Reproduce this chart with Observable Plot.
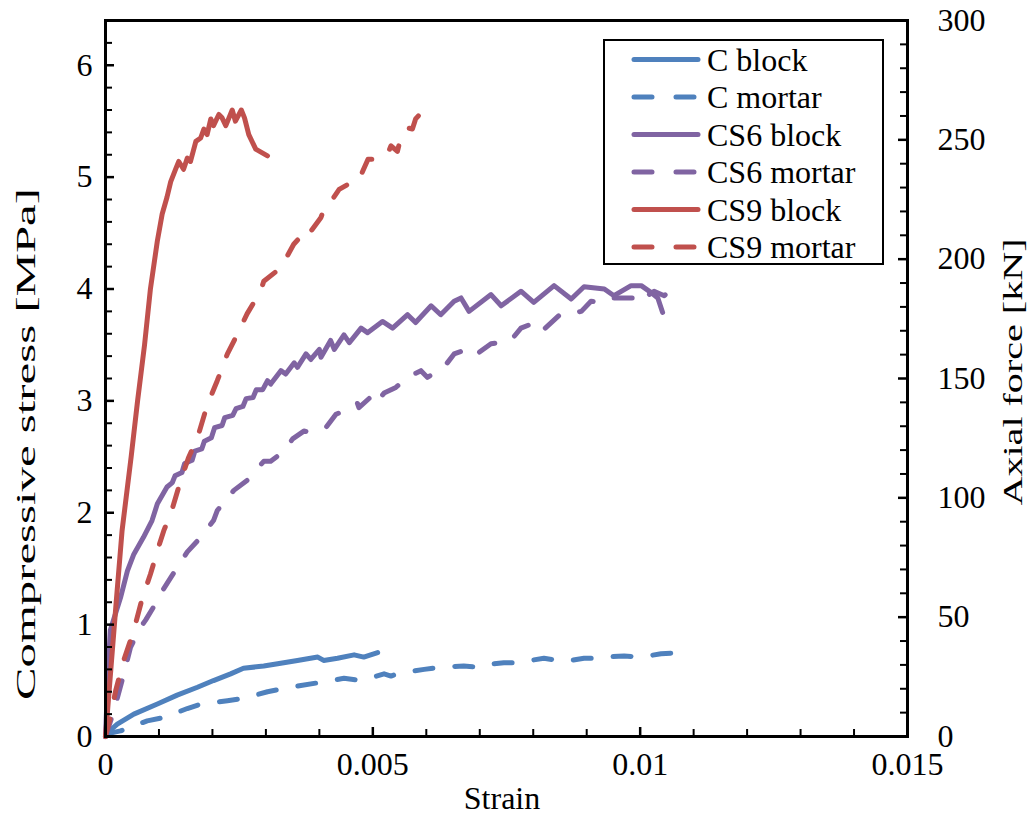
<!DOCTYPE html>
<html>
<head>
<meta charset="utf-8">
<script src="https://cdn.jsdelivr.net/npm/d3@7"></script>
<script src="https://cdn.jsdelivr.net/npm/@observablehq/plot@0.6"></script>
<style>
  body { margin: 0; background: white; }
  #wrap { position: relative; width: 1029px; height: 816px; }
  #wrap svg { display: block; }
</style>
</head>
<body>
<div id="wrap"></div>
<script>
// ---------------- data ----------------
const seriesNames = ["C block", "C mortar", "CS6 block", "CS6 mortar", "CS9 block", "CS9 mortar"];
const seriesColors = ["#4F81BD", "#4F81BD", "#8064A2", "#8064A2", "#C0504D", "#C0504D"];
const seriesDashed = [false, true, false, true, false, true];

const cBlockStrain = [0, 0.00003, 0.00022, 0.00053, 0.00097, 0.00134, 0.00172, 0.00202, 0.00234, 0.00258, 0.00296, 0.00322, 0.00359, 0.00397, 0.00408, 0.00434, 0.00465, 0.00483, 0.00509];
const cBlockStress = [0, 0.03, 0.11, 0.2, 0.29, 0.37, 0.44, 0.5, 0.56, 0.61, 0.63, 0.65, 0.68, 0.71, 0.68, 0.7, 0.73, 0.71, 0.75];

const cMortarStrain = [0, 0.00009, 0.00028, 0.00078, 0.00109, 0.00153, 0.00178, 0.00228, 0.00258, 0.00303, 0.00346, 0.00397, 0.00446, 0.00478, 0.00521, 0.00534, 0.00552, 0.00596, 0.00627, 0.0067, 0.00696, 0.00705, 0.00745, 0.00771, 0.0082, 0.00858, 0.00895, 0.0092, 0.00933, 0.0097, 0.01002, 0.01039, 0.01077];
const cMortarStress = [0, 0.03, 0.05, 0.14, 0.17, 0.25, 0.29, 0.32, 0.34, 0.4, 0.44, 0.48, 0.52, 0.5, 0.56, 0.54, 0.57, 0.6, 0.62, 0.63, 0.62, 0.64, 0.66, 0.66, 0.7, 0.67, 0.7, 0.7, 0.71, 0.72, 0.71, 0.74, 0.75];

const cs6BlockStrain = [0, 0.00005, 0.00009, 0.00028, 0.00041, 0.00053, 0.00071, 0.00087, 0.00097, 0.00115, 0.00125, 0.0013, 0.00143, 0.00148, 0.00162, 0.00167, 0.0018, 0.00185, 0.00198, 0.00204, 0.00218, 0.00223, 0.00238, 0.00244, 0.00257, 0.00263, 0.00276, 0.00282, 0.00294, 0.00303, 0.00309, 0.00328, 0.00337, 0.00353, 0.00359, 0.00375, 0.00384, 0.004, 0.00403, 0.00421, 0.00428, 0.00446, 0.00456, 0.00478, 0.0049, 0.00518, 0.00537, 0.00565, 0.0058, 0.00609, 0.00627, 0.00652, 0.00665, 0.0068, 0.00721, 0.0074, 0.00777, 0.00801, 0.00839, 0.00871, 0.00895, 0.00933, 0.00951, 0.00983, 0.01002, 0.0102, 0.01033, 0.01042];
const cs6BlockStress = [0, 0.6, 0.95, 1.24, 1.48, 1.63, 1.78, 1.93, 2.08, 2.23, 2.27, 2.33, 2.36, 2.44, 2.47, 2.55, 2.57, 2.64, 2.67, 2.76, 2.78, 2.85, 2.87, 2.93, 2.95, 3.02, 3.03, 3.1, 3.1, 3.18, 3.15, 3.27, 3.24, 3.34, 3.3, 3.42, 3.37, 3.46, 3.39, 3.54, 3.46, 3.59, 3.52, 3.65, 3.61, 3.71, 3.65, 3.77, 3.7, 3.85, 3.77, 3.89, 3.92, 3.8, 3.95, 3.85, 3.98, 3.88, 4.03, 3.91, 4.02, 4.0, 3.94, 4.03, 4.03, 3.97, 3.92, 3.79];

const cs6MortarStrain = [0, 0.00015, 0.00031, 0.00047, 0.00066, 0.00075, 0.00094, 0.00106, 0.00122, 0.00134, 0.00153, 0.00178, 0.00202, 0.00209, 0.0024, 0.00265, 0.00296, 0.00309, 0.00334, 0.0035, 0.00371, 0.00384, 0.00412, 0.00431, 0.00456, 0.00471, 0.00474, 0.00502, 0.00509, 0.00521, 0.00543, 0.00565, 0.0059, 0.00602, 0.00633, 0.00652, 0.0067, 0.00689, 0.00721, 0.00758, 0.00777, 0.00808, 0.0082, 0.00852, 0.00864, 0.0089, 0.00908, 0.00933, 0.00951, 0.00989, 0.00995, 0.0102, 0.01026, 0.01045, 0.01058, 0.01067];
const cs6MortarStress = [0, 0.22, 0.5, 0.8, 0.98, 1.04, 1.19, 1.3, 1.42, 1.51, 1.65, 1.78, 1.93, 2.02, 2.2, 2.29, 2.46, 2.46, 2.55, 2.66, 2.73, 2.72, 2.76, 2.88, 2.93, 2.98, 2.94, 3.06, 3.0, 3.07, 3.12, 3.21, 3.27, 3.21, 3.3, 3.42, 3.45, 3.4, 3.51, 3.54, 3.65, 3.71, 3.64, 3.78, 3.78, 3.8, 3.89, 3.88, 3.92, 3.92, 3.88, 3.96, 3.98, 3.94, 4.0, 4.01];

const cs9BlockStrain = [0, 0.0001, 0.0002, 0.00031, 0.00048, 0.0006, 0.00073, 0.00084, 0.00097, 0.00106, 0.00115, 0.00122, 0.00131, 0.00137, 0.00146, 0.00153, 0.00159, 0.00169, 0.00178, 0.00184, 0.0019, 0.00197, 0.00202, 0.00212, 0.00218, 0.00225, 0.00237, 0.00243, 0.00254, 0.0026, 0.00268, 0.00281, 0.00303];
const cs9BlockStress = [0, 0.6, 1.2, 1.84, 2.5, 3.0, 3.5, 4.0, 4.43, 4.67, 4.82, 4.96, 5.07, 5.14, 5.07, 5.17, 5.14, 5.32, 5.35, 5.43, 5.38, 5.52, 5.46, 5.56, 5.53, 5.46, 5.6, 5.5, 5.6, 5.53, 5.38, 5.25, 5.19];

const cs9MortarStrain = [0, 0.00008, 0.00019, 0.00034, 0.00053, 0.00069, 0.00084, 0.00099, 0.00109, 0.00122, 0.00137, 0.00155, 0.00172, 0.00187, 0.0019, 0.00209, 0.00228, 0.00247, 0.00265, 0.0029, 0.00296, 0.00328, 0.00352, 0.00375, 0.0038, 0.00403, 0.00409, 0.00427, 0.00437, 0.00455, 0.00459, 0.00478, 0.00491, 0.00506, 0.00528, 0.00534, 0.00546, 0.00552, 0.00565, 0.00574, 0.0058, 0.00593];
const cs9MortarStress = [0, 0.15, 0.41, 0.68, 0.95, 1.24, 1.45, 1.69, 1.84, 1.99, 2.23, 2.49, 2.67, 2.91, 2.96, 3.18, 3.42, 3.6, 3.78, 3.98, 4.07, 4.19, 4.4, 4.52, 4.49, 4.64, 4.72, 4.82, 4.89, 4.94, 4.99, 5.02, 5.16, 5.16, 5.21, 5.28, 5.23, 5.35, 5.44, 5.43, 5.52, 5.59];

const seriesStrain = [cBlockStrain, cMortarStrain, cs6BlockStrain, cs6MortarStrain, cs9BlockStrain, cs9MortarStrain];
const seriesStress = [cBlockStress, cMortarStress, cs6BlockStress, cs6MortarStress, cs9BlockStress, cs9MortarStress];

// axes
const xDomain = [0, 0.015];
const xMajorTicks = [0, 0.005, 0.01, 0.015];
const xTickLabels = ["0", "0.005", "0.01", "0.015"];
const xMinorTicks = [0.001, 0.002, 0.003, 0.004, 0.006, 0.007, 0.008, 0.009, 0.011, 0.012, 0.013, 0.014];
const yDomain = [0, 6.4];
const yMajorTicks = [0, 1, 2, 3, 4, 5, 6];
const yTickLabels = ["0", "1", "2", "3", "4", "5", "6"];
const yMinorTicks = d3.range(1, 32).map(i => i * 0.2).filter(v => Math.abs(v - Math.round(v)) > 1e-6);
const kNPerMPa = 300 / 6.4;
const rightMajorKN = [0, 50, 100, 150, 200, 250, 300];
const rightTickLabels = ["0", "50", "100", "150", "200", "250", "300"];
const rightMinorKN = d3.range(1, 30).map(i => i * 10).filter(v => v % 50 !== 0);

const xTitle = "Strain";
const yTitle = "Compressive stress [MPa]";
const y2Title = "Axial force [kN]";

// ---------------- chart ----------------
const W = 1029, H = 816;
const mL = 105, mR = 122, mT = 20, mB = 80;
const pw = W - mL - mR, ph = H - mT - mB;
const font = "'Liberation Serif', 'Times New Roman', serif";

const lineMarks = seriesNames.map((name, s) => {
  const rows = seriesStrain[s].map((e, i) => ({strain: e, stress: seriesStress[s][i]}));
  return Plot.line(rows, {
    x: "strain", y: "stress",
    stroke: seriesColors[s], strokeWidth: 5,
    strokeLinecap: "round", strokeLinejoin: "round",
    strokeDasharray: seriesDashed[s] ? "18,22" : null
  });
});

const chart = Plot.plot({
  width: W, height: H,
  marginLeft: mL, marginRight: mR, marginTop: mT, marginBottom: mB,
  x: {domain: xDomain},
  y: {domain: yDomain},
  style: {fontFamily: font, fontSize: "32px", color: "black", background: "white"},
  marks: [
    ...lineMarks,
    Plot.tickX(xMinorTicks, {x: d => d, insetTop: ph - 7, stroke: "black", strokeWidth: 2}),
    Plot.tickX(xMajorTicks, {x: d => d, insetTop: ph - 9, stroke: "black", strokeWidth: 2.5}),
    Plot.tickY(yMinorTicks, {y: d => d, insetRight: pw - 7, stroke: "black", strokeWidth: 2}),
    Plot.tickY(yMajorTicks, {y: d => d, insetRight: pw - 9, stroke: "black", strokeWidth: 2.5}),
    Plot.tickY(rightMinorKN.map(k => k / kNPerMPa), {y: d => d, insetLeft: pw - 7, stroke: "black", strokeWidth: 2}),
    Plot.tickY(rightMajorKN.map(k => k / kNPerMPa), {y: d => d, insetLeft: pw - 9, stroke: "black", strokeWidth: 2.5}),
    Plot.frame({stroke: "black", strokeWidth: 3}),
    Plot.axisX(xMajorTicks, {anchor: "bottom", tickSize: 0, tickPadding: 16, label: null,
      tickFormat: d => xTickLabels[xMajorTicks.indexOf(d)]}),
    Plot.axisY(yMajorTicks, {anchor: "left", tickSize: 0, tickPadding: 13, label: null,
      tickFormat: d => yTickLabels[yMajorTicks.indexOf(d)]}),
    Plot.axisY(rightMajorKN.map(k => k / kNPerMPa), {anchor: "right", tickSize: 0, tickPadding: 30, label: null,
      textAnchor: "start",
      tickFormat: d => rightTickLabels[rightMajorKN.indexOf(Math.round(d * kNPerMPa))]})
  ]
});

const wrap = document.getElementById("wrap");
wrap.appendChild(chart);

// axis titles
const svg = d3.select(chart);
svg.append("text")
  .attr("x", 502).attr("y", 809)
  .attr("text-anchor", "middle")
  .attr("font-family", font).attr("font-size", 32)
  .style("font-family", font).style("font-size", "32px").attr("fill", "black")
  .text(xTitle);
svg.append("text")
  .attr("transform", `translate(25,444) rotate(-90)`)
  .attr("text-anchor", "middle").attr("dominant-baseline", "central")
  .attr("textLength", 512).attr("lengthAdjust", "spacingAndGlyphs")
  .attr("font-family", font)
  .style("font-family", font).style("font-size", "28px").attr("fill", "black")
  .text(yTitle);
svg.append("text")
  .attr("transform", `translate(1012,372) rotate(-90)`)
  .attr("text-anchor", "middle").attr("dominant-baseline", "central")
  .attr("textLength", 267).attr("lengthAdjust", "spacingAndGlyphs")
  .attr("font-family", font)
  .style("font-family", font).style("font-size", "28px").attr("fill", "black")
  .text(y2Title);

// legend
const leg = svg.append("g");
leg.append("rect").attr("x", 604).attr("y", 40).attr("width", 279).attr("height", 224)
  .attr("fill", "white").attr("stroke", "black").attr("stroke-width", 2);
seriesNames.forEach((name, s) => {
  const cy = 59.5 + s * 37.5;
  leg.append("line").attr("x1", 634).attr("x2", 698).attr("y1", cy).attr("y2", cy)
    .attr("stroke", seriesColors[s]).attr("stroke-width", 5).attr("stroke-linecap", "round")
    .attr("stroke-dasharray", seriesDashed[s] ? "18,24" : null);
  leg.append("text").attr("x", 707).attr("y", cy + 11)
    .attr("text-anchor", "start")
    .style("font-family", font).style("font-size", "32px").attr("fill", "black")
    .text(name);
});
</script>
</body>
</html>
